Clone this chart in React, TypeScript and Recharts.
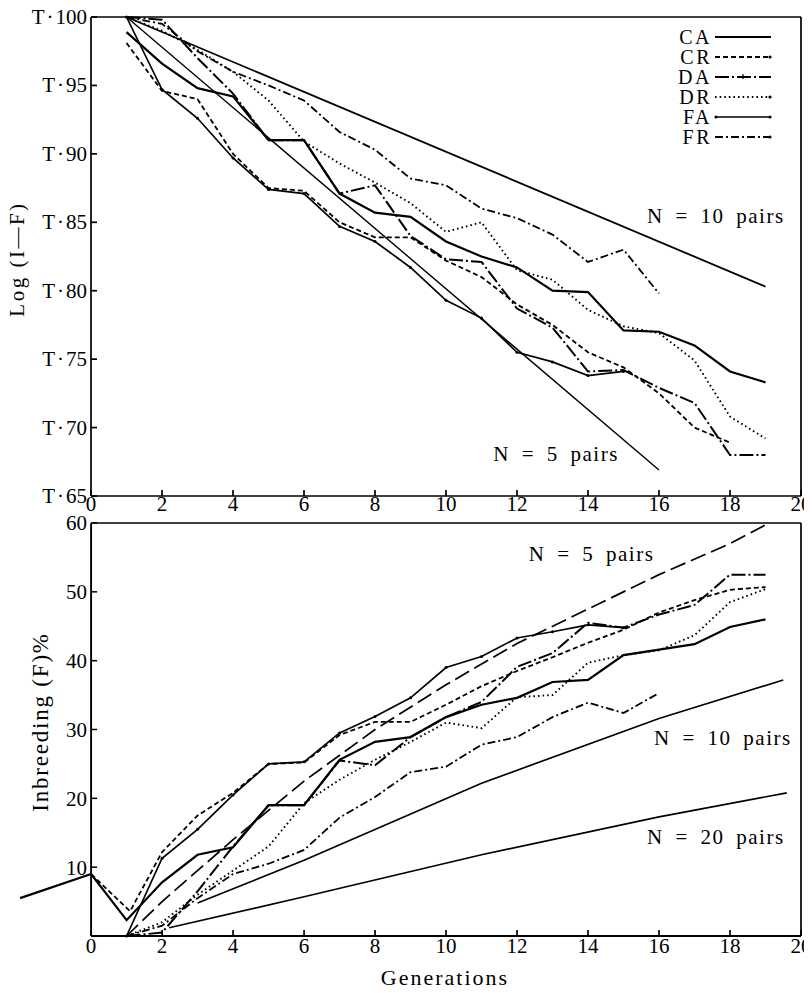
import React from "react";
import {
  Legend,
  Line,
  LineChart,
  ReferenceDot,
  ReferenceLine,
  XAxis,
  YAxis,
} from "recharts";

const FONT = "'Liberation Serif', 'Times New Roman', serif";

// tick labels
const genTicks = [0, 2, 4, 6, 8, 10, 12, 14, 16, 18, 20];
const logTicks = [65, 70, 75, 80, 85, 90, 95, 100];
const pctTicks = [10, 20, 30, 40, 50, 60];
const seriesNames = ["CA", "CR", "DA", "DR", "FA", "FR"];

// upper panel: log(1-F), written as the "T·xx" mantissa
const n10Log = [[1, 100], [19, 80.3]];
const n5Log = [[1, 100], [16, 66.9]];
const caLog = [[1, 98.9], [2, 96.6], [3, 94.8], [4, 94.2], [5, 91.0], [6, 91.0], [7, 87.1], [8, 85.7], [9, 85.4], [10, 83.6], [11, 82.5], [12, 81.7], [13, 80.0], [14, 79.9], [15, 77.1], [16, 77.0], [17, 76.0], [18, 74.1], [19, 73.3]];
const crLog = [[1, 98.1], [2, 94.6], [3, 94.0], [4, 90.0], [5, 87.5], [6, 87.3], [7, 85.0], [8, 83.9], [9, 83.9], [10, 82.2], [11, 81.0], [12, 79.0], [13, 77.5], [14, 75.5], [15, 74.4], [16, 72.5], [17, 70.0], [18, 68.9]];
const daLog = [[1, 100], [2, 99.8], [3, 97.0], [4, 94.4], [5, 91.0], [6, 91.0], [7, 87.1], [8, 87.7], [9, 84.0], [10, 82.3], [11, 82.1], [12, 78.7], [13, 77.3], [14, 74.1], [15, 74.2], [16, 72.9], [17, 71.8], [18, 68.0], [19, 68.0]];
const drLog = [[1, 100], [2, 99.0], [3, 97.6], [4, 96.0], [5, 93.9], [6, 90.9], [7, 89.3], [8, 87.9], [9, 86.4], [10, 84.3], [11, 85.0], [12, 81.5], [13, 80.8], [14, 78.6], [15, 77.4], [16, 76.9], [17, 74.9], [18, 70.8], [19, 69.2]];
const faLog = [[1, 100], [2, 94.7], [3, 92.6], [4, 89.7], [5, 87.4], [6, 87.1], [7, 84.7], [8, 83.6], [9, 81.7], [10, 79.3], [11, 78.0], [12, 75.5], [13, 74.8], [14, 73.8], [15, 74.1]];
const frLog = [[1, 100], [2, 99.5], [3, 97.5], [4, 96.0], [5, 95.0], [6, 93.9], [7, 91.6], [8, 90.3], [9, 88.2], [10, 87.7], [11, 86.0], [12, 85.3], [13, 84.1], [14, 82.1], [15, 83.0], [16, 79.8]];

// lower panel: inbreeding F %
const n5Pct = [[1, 0], [2, 5], [4, 14], [6, 22.5], [8, 30], [10, 36.5], [12, 42.5], [14, 47.5], [16, 52.5], [18, 57], [19.1, 60]];
const n10Pct = [[3, 4.8], [6, 11], [11, 22.2], [16, 31.6], [19.5, 37.2]];
const n20Pct = [[2.2, 1.2], [6, 5.7], [11, 11.8], [16, 17.3], [19.6, 20.8]];
const caPct = [[-2, 5.5], [0, 9], [1, 2.3], [2, 7.8], [3, 11.8], [4, 12.9], [5, 19], [6, 19], [7, 25.6], [8, 28.2], [9, 28.9], [10, 31.8], [11, 33.6], [12, 34.6], [13, 36.9], [14, 37.2], [15, 40.8], [16, 41.6], [17, 42.4], [18, 44.9], [19, 46]];
const crPct = [[0, 9], [1.1, 3.6], [2, 12.2], [3, 17.5], [4, 20.8], [5, 25], [6, 25.2], [7, 29.2], [8, 31.1], [9, 31.1], [10, 33.6], [11, 36.3], [12, 38.5], [13, 40.5], [14, 42.6], [15, 44.5], [16, 47], [17, 48.8], [18, 50.3], [19, 50.7]];
const daPct = [[1, 0], [2, 0.5], [3, 6.5], [4, 13], [5, 19], [6, 19], [7, 25.5], [8, 24.8], [9, 28.9], [10, 31.8], [11, 34], [12, 39.1], [13, 41.1], [14, 45.5], [15, 44.8], [16, 46.7], [17, 48.1], [18, 52.5], [19, 52.5]];
const drPct = [[1, 0], [2, 2], [3, 6], [4, 9.5], [5, 13], [6, 19.3], [7, 22.7], [8, 25.6], [9, 28.2], [10, 31], [11, 30.2], [12, 34.7], [13, 35], [14, 39.7], [15, 40.8], [16, 41.5], [17, 43.7], [18, 48.5], [19, 50.4]];
const faPct = [[1, 0], [2, 11.3], [3, 15.5], [4, 20.5], [5, 25], [6, 25.3], [7, 29.5], [8, 31.9], [9, 34.6], [10, 39], [11, 40.6], [12, 43.3], [13, 44.2], [14, 45.2], [15, 44.8]];
const frPct = [[1, 0], [2, 1.5], [3, 5.5], [4, 9], [5, 10.5], [6, 12.5], [7, 17.2], [8, 20.2], [9, 23.8], [10, 24.6], [11, 27.8], [12, 28.9], [13, 31.8], [14, 33.9], [15, 32.4], [16, 35.3]];

const pts = (rows: number[][]) => rows.map(([g, v]) => ({ g, v }));

const lineStyle: Record<string, { dash?: string; width: number; dot?: boolean }> = {
  CA: { width: 2.2 },
  CR: { dash: "5 3", width: 1.8 },
  DA: { dash: "14 3 2 3", width: 2 },
  DR: { dash: "1.6 3", width: 1.9 },
  FA: { width: 1.7, dot: true },
  FR: { dash: "8 3 2 3", width: 1.8 },
};

const topSeries: [string, number[][]][] = [
  ["CA", caLog], ["CR", crLog], ["DA", daLog], ["DR", drLog], ["FA", faLog], ["FR", frLog],
];
const bottomSeries: [string, number[][]][] = [
  ["CA", caPct], ["CR", crPct], ["DA", daPct], ["DR", drPct], ["FA", faPct], ["FR", frPct],
];

const svgText = { fontFamily: FONT, fontSize: 21 };
const labelStyle = {
  fill: "#000",
  fontSize: 21,
  fontFamily: FONT,
  style: { fontFamily: FONT, wordSpacing: 5, letterSpacing: 1.5 },
};

function LogTick({ x, y, payload }: any) {
  return (
    <text x={x} y={y} dy={7} textAnchor="end" fill="#000" style={svgText}>
      T<tspan dx={2}>·</tspan>
      <tspan dx={2}>{payload.value}</tspan>
    </text>
  );
}

function GenTick({ x, y, payload, dy }: any) {
  return (
    <text x={x} y={y} dy={dy} textAnchor="middle" fill="#000" style={svgText}>
      {payload.value}
    </text>
  );
}

function Sample({ name }: { name: string }) {
  const s = lineStyle[name];
  return (
    <svg width={58} height={10} style={{ marginLeft: 2 }}>
      <line x1={1} y1={5} x2={57} y2={5} stroke="#000" strokeWidth={s.width} strokeDasharray={s.dash} />
      {name === "DA" && <line x1={29} y1={2} x2={29} y2={7} stroke="#000" strokeWidth={1.2} />}
      {(name === "FA" || name === "CR" || name === "DR" || name === "FR") && (
        <circle cx={56} cy={5} r={1.6} fill="#000" />
      )}
      {name === "FA" && <circle cx={2} cy={5} r={1.6} fill="#000" />}
    </svg>
  );
}

function LegendBox() {
  return (
    <div style={{ fontFamily: FONT, fontSize: 20, lineHeight: "20px", color: "#000" }}>
      {seriesNames.map((n) => (
        <div key={n} style={{ display: "flex", alignItems: "center", justifyContent: "flex-end", height: 20 }}>
          <span style={{ letterSpacing: 2.5 }}>{n}</span>
          <Sample name={n} />
        </div>
      ))}
    </div>
  );
}

const axisTitle: React.CSSProperties = {
  position: "absolute",
  fontFamily: FONT,
  whiteSpace: "nowrap",
  color: "#000",
};

export default function App() {
  return (
    <div style={{ position: "relative", width: 804, height: 993, marginTop: -8, fontFamily: FONT }}>
      <div style={{ position: "absolute", left: 0, top: 0 }}>
        <LineChart width={804} height={521} margin={{ top: 17, right: 11, bottom: 0, left: 0 }}>
          <XAxis
            dataKey="g"
            type="number"
            domain={[0, 20]}
            ticks={genTicks}
            height={25}
            tickSize={-6}
            tickMargin={9}
            stroke="#000"
            strokeWidth={1.7}
            tick={<GenTick dy={12} />}
          />
          <YAxis
            type="number"
            domain={[65, 100]}
            ticks={logTicks}
            width={83}
            tickSize={-6}
            tickMargin={10}
            stroke="#000"
            strokeWidth={1.7}
            tick={<LogTick />}
          />
          <ReferenceLine y={100} stroke="#000" strokeWidth={1.7} />
          <ReferenceLine x={20} stroke="#000" strokeWidth={1.7} />
          <Line data={pts(n10Log)} dataKey="v" type="linear" stroke="#000" strokeWidth={1.8} dot={false} isAnimationActive={false} />
          <Line data={pts(n5Log)} dataKey="v" type="linear" stroke="#000" strokeWidth={1.4} dot={false} isAnimationActive={false} />
          {topSeries.map(([name, rows]) => (
            <Line
              key={name}
              name={name}
              data={pts(rows)}
              dataKey="v"
              type="linear"
              stroke="#000"
              strokeWidth={lineStyle[name].width}
              strokeDasharray={lineStyle[name].dash}
              dot={lineStyle[name].dot ? { r: 1.5, fill: "#000", stroke: "none" } : false}
              isAnimationActive={false}
            />
          ))}
          <ReferenceDot x={17.6} y={85.5} r={0} fill="none" stroke="none" label={{ value: "N = 10 pairs", position: "center", ...labelStyle }} />
          <ReferenceDot x={13.1} y={68.1} r={0} fill="none" stroke="none" label={{ value: "N = 5 pairs", position: "center", ...labelStyle }} />
          <Legend
            layout="vertical"
            align="center"
            verticalAlign="middle"
            wrapperStyle={{ top: 27, right: 40, left: "auto", width: "auto" }}
            content={() => <LegendBox />}
          />
        </LineChart>
      </div>

      <div style={{ position: "absolute", left: 0, top: 500 }}>
        <LineChart width={804} height={493} margin={{ top: 23, right: 11, bottom: 0, left: 5 }}>
          <XAxis
            dataKey="g"
            type="number"
            domain={[-2.2, 20]}
            ticks={genTicks}
            height={57}
            axisLine={false}
            tickSize={-6}
            tickMargin={9}
            stroke="#000"
            strokeWidth={1.7}
            tick={<GenTick dy={14} />}
          />
          <YAxis type="number" domain={[0, 60]} hide />
          <ReferenceLine segment={[{ x: 0, y: 0 }, { x: 20, y: 0 }]} stroke="#000" strokeWidth={1.9} />
          <ReferenceLine segment={[{ x: 0, y: 0 }, { x: 0, y: 60 }]} stroke="#000" strokeWidth={1.9} />
          <ReferenceLine segment={[{ x: 20, y: 0 }, { x: 20, y: 60 }]} stroke="#000" strokeWidth={1.7} />
          <ReferenceLine segment={[{ x: 0, y: 60 }, { x: 20, y: 60 }]} stroke="#000" strokeWidth={1.7} />
          {pctTicks.map((t) => (
            <ReferenceLine
              key={t}
              segment={[{ x: 0, y: t }, { x: 0.17, y: t }]}
              stroke="#000"
              strokeWidth={1.5}
              label={{ value: String(t), position: "left", offset: 4, fill: "#000", fontSize: 21, fontFamily: FONT, style: { fontFamily: FONT } }}
            />
          ))}
          <Line data={pts(n5Pct)} dataKey="v" type="linear" stroke="#000" strokeWidth={1.7} strokeDasharray="16 6" dot={false} isAnimationActive={false} />
          <Line data={pts(n10Pct)} dataKey="v" type="linear" stroke="#000" strokeWidth={1.7} dot={false} isAnimationActive={false} />
          <Line data={pts(n20Pct)} dataKey="v" type="linear" stroke="#000" strokeWidth={1.7} dot={false} isAnimationActive={false} />
          {bottomSeries.map(([name, rows]) => (
            <Line
              key={name}
              name={name}
              data={pts(rows)}
              dataKey="v"
              type="linear"
              stroke="#000"
              strokeWidth={lineStyle[name].width}
              strokeDasharray={lineStyle[name].dash}
              dot={lineStyle[name].dot ? { r: 1.5, fill: "#000", stroke: "none" } : false}
              isAnimationActive={false}
            />
          ))}
          <ReferenceDot x={14.1} y={55.5} r={0} fill="none" stroke="none" label={{ value: "N = 5 pairs", position: "center", ...labelStyle }} />
          <ReferenceDot x={17.8} y={28.9} r={0} fill="none" stroke="none" label={{ value: "N = 10 pairs", position: "center", ...labelStyle }} />
          <ReferenceDot x={17.6} y={14.5} r={0} fill="none" stroke="none" label={{ value: "N = 20 pairs", position: "center", ...labelStyle }} />
        </LineChart>
      </div>

      <div style={{ ...axisTitle, fontSize: 21, letterSpacing: 2.5, left: 9, top: 259, transform: "translate(-50%, -50%) rotate(-90deg)" }}>Log (I—F)</div>
      <div style={{ ...axisTitle, fontSize: 23, letterSpacing: 1.8, left: 33, top: 722, transform: "translate(-50%, -50%) rotate(-90deg)" }}>Inbreeding (F)%</div>
      <div style={{ ...axisTitle, fontSize: 22, letterSpacing: 2, left: 437, top: 978, transform: "translate(-50%, -50%)" }}>Generations</div>
    </div>
  );
}
